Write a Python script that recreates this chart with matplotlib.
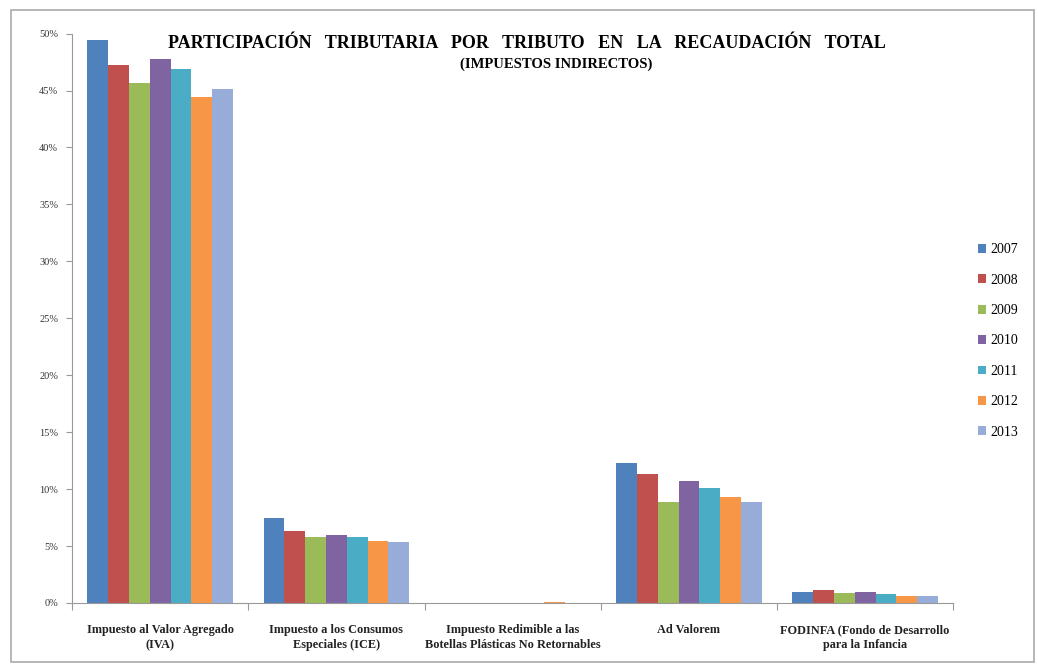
import numpy as np
import matplotlib.pyplot as plt
from matplotlib.patches import Rectangle

categories = [
    "Impuesto al Valor Agregado\n(IVA)",
    "Impuesto a los Consumos\nEspeciales (ICE)",
    "Impuesto Redimible a las\nBotellas Plásticas No Retornables",
    "Ad Valorem",
    "FODINFA (Fondo de Desarrollo\npara la Infancia",
]
years = ["2007", "2008", "2009", "2010", "2011", "2012", "2013"]

# participación (%) por año, un valor por categoría
v2007 = [49.4, 7.5, 0.0, 12.3, 0.94]
v2008 = [47.2, 6.35, 0.0, 11.3, 1.14]
v2009 = [45.7, 5.8, 0.0, 8.9, 0.85]
v2010 = [47.8, 6.0, 0.0, 10.7, 0.94]
v2011 = [46.9, 5.8, 0.02, 10.1, 0.79]
v2012 = [44.4, 5.45, 0.12, 9.35, 0.64]
v2013 = [45.1, 5.35, 0.04, 8.85, 0.64]
series = [v2007, v2008, v2009, v2010, v2011, v2012, v2013]

colors = ["#4F81BD", "#C0504D", "#9BBB59", "#8064A2",
          "#4BACC6", "#F79646", "#98ACDA"]

serif = ["Liberation Serif", "DejaVu Serif"]

fig = plt.figure(figsize=(10.38, 6.66), dpi=100)
ax = fig.add_axes([0.0694, 0.0946, 0.849, 0.855])

x = np.arange(len(categories))
w = 0.118
for i, (yr, vals) in enumerate(zip(years, series)):
    ax.bar(x + (i - 3) * w, vals, width=w, color=colors[i], label=yr)

ax.set_xlim(-0.5, len(categories) - 0.5)
ax.set_ylim(0, 50)
ax.set_yticks(np.arange(0, 51, 5))
ax.set_yticklabels([f"{t}%" for t in range(0, 51, 5)],
                   fontsize=7.5, family=serif, color="#333333")

# group separators as major ticks, names as minor tick labels
ax.set_xticks(np.arange(-0.5, len(categories)), minor=False)
ax.set_xticklabels([])
ax.set_xticks(x, minor=True)
ax.set_xticklabels(categories, minor=True, fontsize=8.8, family=serif,
                   fontweight="bold", color="#222222", linespacing=1.35)
ax.tick_params(axis="x", which="minor", length=0, pad=15)
ax.tick_params(axis="x", which="major", length=5, color="#999999")
ax.tick_params(axis="y", length=4, color="#999999", pad=6)

for s in ["top", "right"]:
    ax.spines[s].set_visible(False)
for s in ["left", "bottom"]:
    ax.spines[s].set_color("#999999")
    ax.spines[s].set_linewidth(0.8)

fig.text(0.508, 0.935,
         "PARTICIPACIÓN   TRIBUTARIA   POR   TRIBUTO   EN   LA   "
         "RECAUDACIÓN   TOTAL",
         ha="center", va="center", fontsize=13, fontweight="bold",
         family=serif)
fig.text(0.536, 0.903, "(IMPUESTOS INDIRECTOS)",
         ha="center", va="center", fontsize=10.5, fontweight="bold",
         family=serif)

fig.legend(loc="center left", bbox_to_anchor=(0.93, 0.488),
           frameon=False, handlelength=0.6, handleheight=0.6,
           handletextpad=0.3, labelspacing=1.25,
           prop={"family": serif, "size": 10})

fig.patches.append(Rectangle((0.011, 0.006), 0.985, 0.979,
                             transform=fig.transFigure, fill=False,
                             edgecolor="#aaaaaa", linewidth=1.2))

fig.savefig("out.png", dpi=100)
